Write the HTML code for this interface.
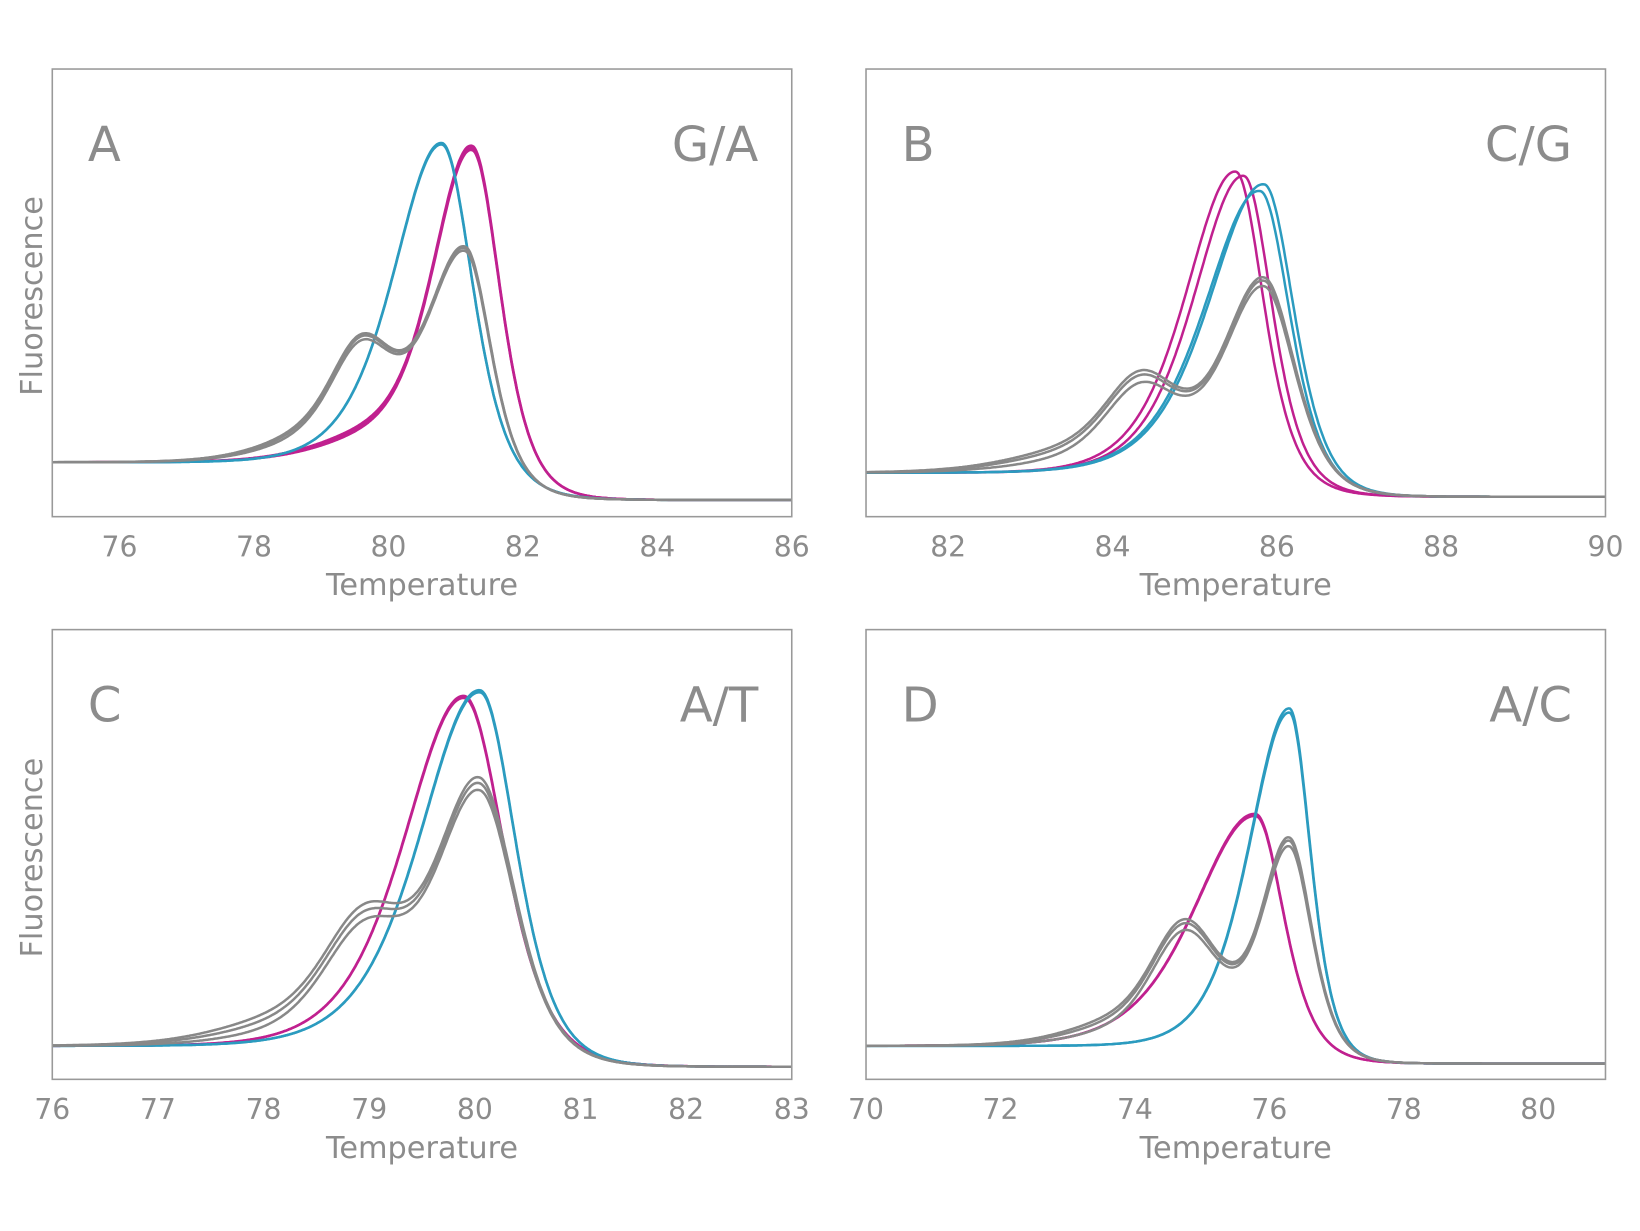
<!DOCTYPE html>
<html><head><meta charset="utf-8"><style>
html,body{margin:0;padding:0;background:#fff;}
svg{display:block;}
text{font-family:"DejaVu Sans","Liberation Sans",sans-serif;fill:#8c8c8c;}
</style></head><body>
<svg id="s" width="1640" height="1231" viewBox="0 0 1568 1177" preserveAspectRatio="none" xmlns="http://www.w3.org/2000/svg">
<rect width="1568" height="1177" fill="#fff"/>
</svg>
<script>
const S=document.getElementById('s');const NS='http://www.w3.org/2000/svg';
function el(t,a,txt){const e=document.createElementNS(NS,t);for(const k in a)e.setAttribute(k,a[k]);if(txt!==undefined)e.textContent=txt;S.appendChild(e);return e;}
function sech2(x){const c=Math.cosh(x);return 1/(c*c);}
const M='#c0208f',B='#2b9bbf',G='#888888';
const panels=[
 {x0:50,x1:757,y0:66,y1:494,t0:75,t1:86,ticks:[76,78,80,82,84,86],L:'A',R:'G/A',
  base:[442,478,81.5,0.45],
  curves:[
   [M,[[81.25,310,0.78,0.55],[79.6,18,1.1,1.1]],[0,2,-1.5]],
   [B,[[80.8,310,0.95,0.6]],[0,1.5]],
   [G,[[81.15,212,0.75,0.5],[79.6,102,0.65,0.65],[78.6,14,1.0,1.0]],[0,1.5,-2.5]]
  ]},
 {x0:828,x1:1535,y0:66,y1:494,t0:81,t1:90,ticks:[82,84,86,88,90],L:'B',R:'C/G',
  base:[452,475,86.0,0.4],
  curves:[
   [M,[[85.5,293,0.8,0.45]],[0]],[M,[[85.6,290,0.8,0.45]],[0]],
   [B,[[85.85,285,0.88,0.48]],[0]],[B,[[85.8,275,0.88,0.48]],[3]],
   [G,[[85.85,190,0.65,0.5],[84.35,82,0.62,0.62],[83.3,12,1,1]],[0,-5,3]]
  ]},
 {x0:50,x1:757,y0:602,y1:1032,t0:76,t1:83,ticks:[76,77,78,79,80,81,82,83],L:'C',R:'A/T',
  base:[1000,1020,80.3,0.4],
  curves:[
   [M,[[79.9,338,0.75,0.5]],[0,2]],
   [B,[[80.05,345,0.75,0.45]],[0,2]],
   [G,[[80.05,250,0.55,0.45],[78.95,108,0.55,0.55],[78.0,12,0.8,0.8]],[0,-6,5]]
  ]},
 {x0:828,x1:1535,y0:602,y1:1032,t0:70,t1:81,ticks:[70,72,74,76,78,80],L:'D',R:'A/C',
  base:[1000,1017,76.2,0.5],
  curves:[
   [M,[[75.8,225,1.2,0.55]],[0,2]],
   [B,[[76.3,328,0.8,0.42]],[0,4]],
   [G,[[76.3,200,0.55,0.45],[74.75,112,0.7,0.7],[73.5,12,1,1]],[0,-5,3]]
  ]}
];
for(const p of panels){
 const X=t=>p.x0+(t-p.t0)/(p.t1-p.t0)*(p.x1-p.x0);
 const [bl,br,bc,bw]=p.base;
 const base=t=>bl+(br-bl)/(1+Math.exp(-(t-bc)/bw));
 for(const [col,peaks,offs] of p.curves){
  for(const o of offs){
   let d='';
   for(let i=0;i<=600;i++){
    const t=p.t0+(p.t1-p.t0)*i/600;
    let y=base(t);
    for(const [c,a,wl,wr] of peaks){const w=t<c?wl:wr;y-=(a+o)*sech2((t-c)/w);}
    d+=(i?'L':'M')+X(t).toFixed(1)+' '+y.toFixed(1);
   }
   el('path',{d,fill:'none',stroke:col,'stroke-width':2.4});
  }
 }
 el('rect',{x:p.x0,y:p.y0,width:p.x1-p.x0,height:p.y1-p.y0,fill:'none',stroke:'#999','stroke-width':1.5});
 for(const t of p.ticks){el('text',{x:X(t),y:p.y1+38,'font-size':27,'text-anchor':'middle'},String(t));}
 el('text',{x:(p.x0+p.x1)/2,y:p.y1+75,'font-size':29,'text-anchor':'middle'},'Temperature');
 el('text',{x:p.x0+34,y:p.y0+88,'font-size':46},p.L);
 el('text',{x:p.x1-32,y:p.y0+88,'font-size':46,'text-anchor':'end'},p.R);
 if(p.x0<100){const cy=(p.y0+p.y1)/2+3;el('text',{x:0,y:0,'font-size':29,'text-anchor':'middle',transform:`translate(40 ${cy}) rotate(-90)`},'Fluorescence');}
}
</script>
</body></html>
